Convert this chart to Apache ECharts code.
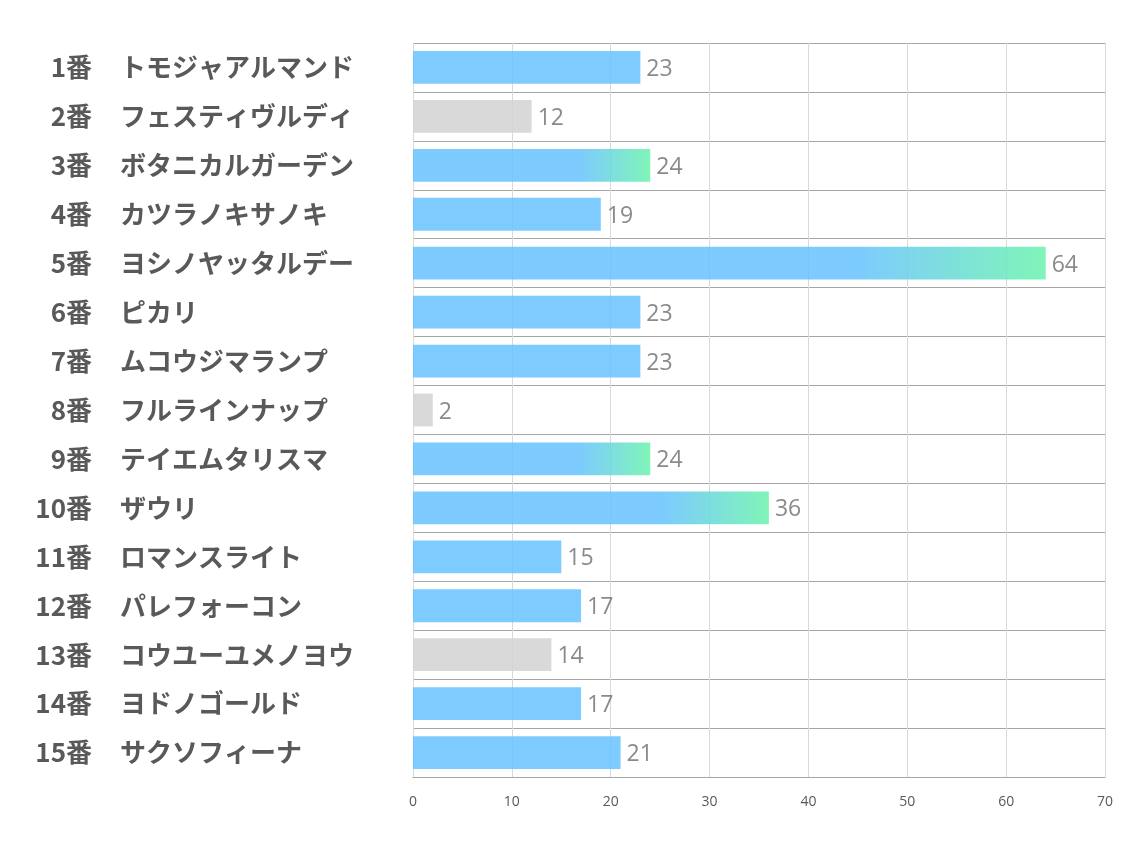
<!DOCTYPE html>
<html><head><meta charset="utf-8">
<script src="https://cdn.jsdelivr.net/npm/echarts@6/dist/echarts.min.js"></script>
<style>html,body{margin:0;padding:0;background:#fff}#c{width:1134px;height:850px}</style>
</head><body><div id="c"></div>
<script>
const numbers = ['1番','2番','3番','4番','5番','6番','7番','8番','9番','10番','11番','12番','13番','14番','15番'];
const names = ['トモジャアルマンド','フェスティヴルディ','ボタニカルガーデン','カツラノキサノキ','ヨシノヤッタルデー','ピカリ','ムコウジマランプ','フルラインナップ','テイエムタリスマ','ザウリ','ロマンスライト','パレフォーコン','コウユーユメノヨウ','ヨドノゴールド','サクソフィーナ'];
const values = [23,12,24,19,64,23,23,2,24,36,15,17,14,17,21];
// group of each bar: 'b' normal, 'g' grey, 'h' highlighted (gradient)
const groups = ['b','g','h','b','h','b','b','g','h','h','b','b','g','b','b'];
const xTicks = [0,10,20,30,40,50,60,70];

const blue = 'rgb(102,194,255)', green = 'rgb(105,243,172)', grey = 'rgb(210,210,210)';
function colorFor(g){
  if(g==='g') return grey;
  if(g==='h') return new echarts.graphic.LinearGradient(0,0,1,0,[{offset:0,color:blue},{offset:0.7,color:blue},{offset:1,color:green}]);
  return blue;
}
const labelFont = {fontSize:26,fontWeight:'bold',color:'#595959',fontFamily:'Noto Sans CJK JP'};
const chart = echarts.init(document.getElementById('c'));
chart.setOption({
  animation:false,
  grid:{left:413,right:29,top:43,bottom:73},
  xAxis:{type:'value',min:xTicks[0],max:xTicks[xTicks.length-1],interval:10,
    axisLine:{show:true,lineStyle:{color:'#a6a6a6',width:1}},
    axisTick:{show:false},
    axisLabel:{color:'#595959',fontSize:14,fontFamily:'Open Sans, Noto Sans CJK JP',margin:18},
    splitLine:{show:true,lineStyle:{color:'#d9d9d9',width:1}}},
  yAxis:[{type:'category',data:names,inverse:true,
    axisLine:{show:true,lineStyle:{color:'#d9d9d9'}},
    axisTick:{show:false},
    splitLine:{show:true,interval:0,lineStyle:{color:'#a6a6a6',width:1}},
    axisLabel:Object.assign({align:'left',margin:293,interval:0},labelFont)},
   {type:'category',data:numbers,inverse:true,position:'left',
    axisLine:{show:false},axisTick:{show:false},splitLine:{show:false},
    axisLabel:Object.assign({align:'right',margin:321,interval:0},labelFont)}],
  series:[{type:'bar',yAxisIndex:0,barCategoryGap:'33%',
    data:values.map((v,i)=>({value:v,itemStyle:{color:colorFor(groups[i]),opacity:0.85}})),
    label:{show:true,position:'right',distance:6,offset:[0,2],color:'#757575',fontSize:23,fontFamily:'Open Sans, Noto Sans CJK JP'}
  }]
});
</script></body></html>
